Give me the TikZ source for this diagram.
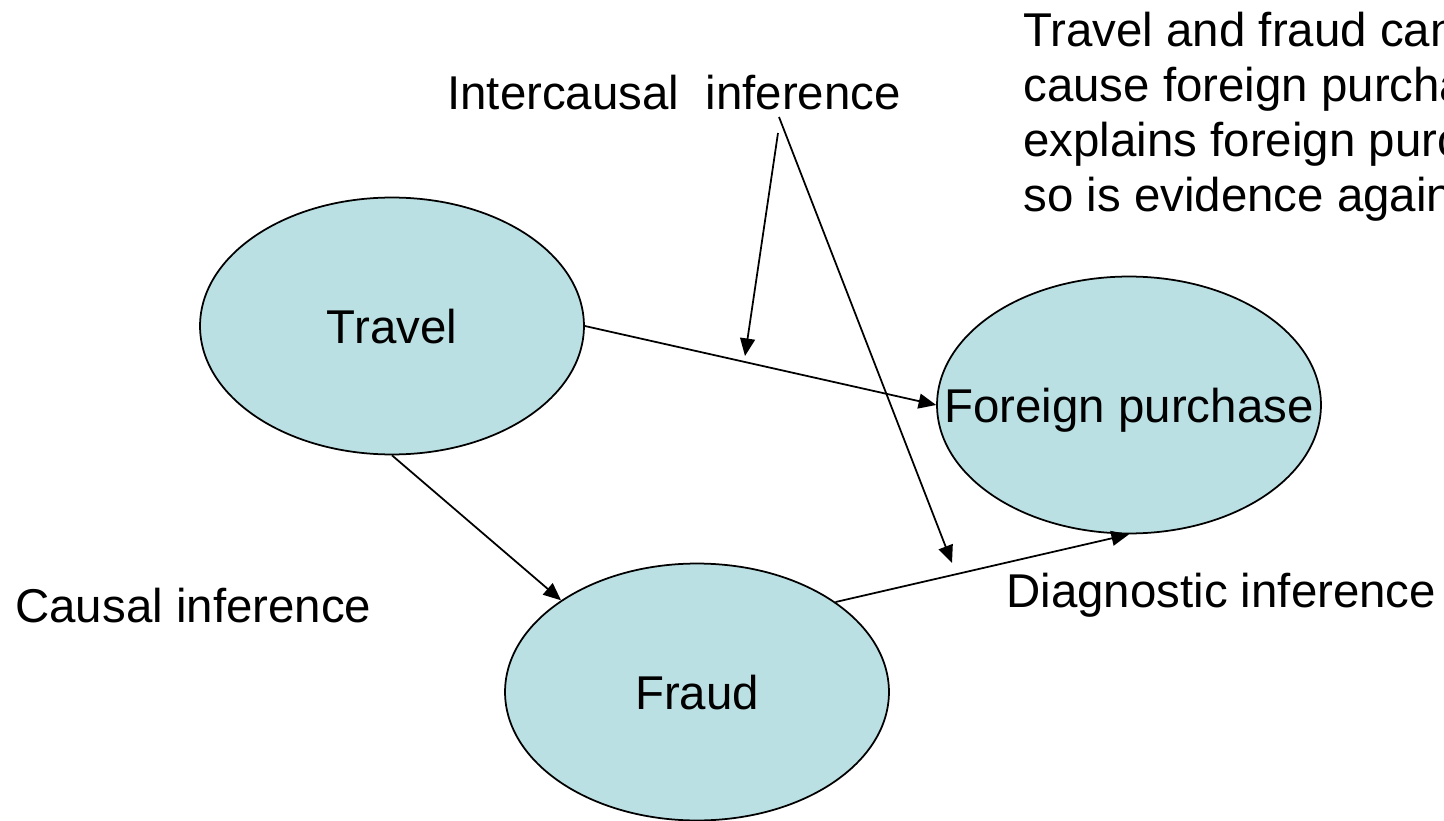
\documentclass[tikz,border=0pt]{standalone}
\usepackage{fontspec}
\setmainfont{Liberation Sans}
\usetikzlibrary{shapes.geometric,arrows.meta}
\definecolor{nodefill}{HTML}{BBE0E3}
\begin{document}
\begin{tikzpicture}[x=0.02cm,y=-0.02cm,
    font=\fontsize{27}{31.3}\selectfont,
    var/.style={ellipse,draw,line width=1pt,fill=nodefill,
        minimum width=7.68cm,minimum height=5.14cm,inner sep=0pt,text depth=0pt},
    lbl/.style={inner sep=0pt,anchor=base west},
    arr/.style={line width=1pt,-{Triangle[length=10pt,width=8.5pt]}}]
    \path[use as bounding box,clip](0,0)rectangle(1444,821);
    % the three variables
    \node[var](travel)at(392,326){Travel};
    \node[var](purchase)at(1129,405){\makebox[0pt]{Foreign purchase}};
    \node[var](fraud)at(697,692){Fraud};
    % labels
    \node[lbl](inter)at(447,110){Intercausal\ \ inference};
    \node[lbl](causal)at(15,622){Causal inference};
    \node[lbl](diag)at(1006,607){Diagnostic inference};
    \node[inner sep=0pt,anchor=north west,align=left](expl)at(1023,12)
        {Travel and fraud can\\cause foreign purchase\\explains foreign purchase\\so is evidence against};
    % links
    \draw[arr](travel.east)--(purchase.west);
    \draw[arr](travel.south)--(fraud.146);
    \draw[arr](fraud.33)--(purchase.south);
    % pointers from the label
    \coordinate(icA)at(778,133);
    \coordinate(icB)at(779,117);
    \coordinate(tipA)at(745,356);
    \coordinate(tipB)at(952,563);
    \draw[arr](icA)--(tipA);
    \draw[arr](icB)--(tipB);
\end{tikzpicture}
\end{document}
